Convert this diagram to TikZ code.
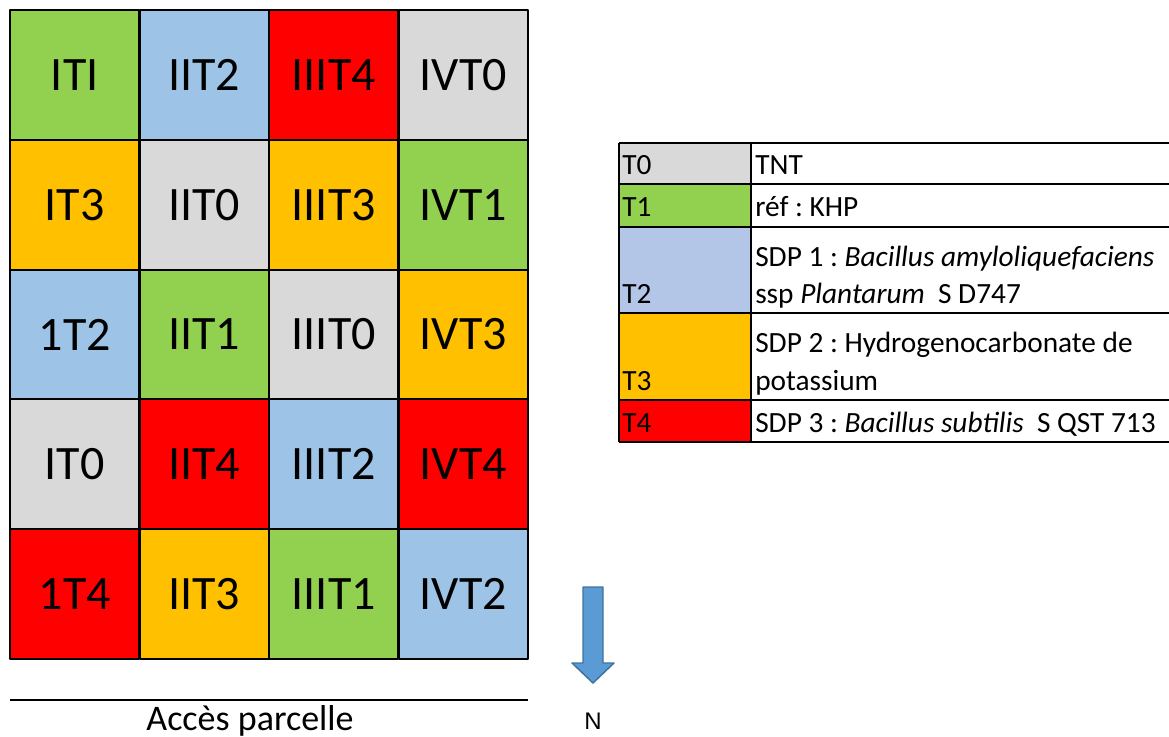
\documentclass[tikz,border=0pt]{standalone}
\usepackage{fontspec}
\setmainfont{Carlito}
\newfontfamily\arialfont{Liberation Sans}
\frenchspacing
\definecolor{vert}{HTML}{92D050}
\definecolor{bleu}{HTML}{9DC3E6}
\definecolor{bleuleg}{HTML}{B4C6E7}
\definecolor{rouge}{HTML}{FF0000}
\definecolor{gris}{HTML}{D9D9D9}
\definecolor{jaune}{HTML}{FFC000}
\definecolor{fleche}{HTML}{5B9BD5}
\definecolor{flechebord}{HTML}{41719C}
\tikzset{
  cell/.style={draw, line width=1.5pt, minimum width=97.1pt, minimum height=97.3pt, inner sep=0pt, font=\fontsize{36}{43}\selectfont},
  leg/.style={anchor=base west, inner sep=0pt, font=\fontsize{22}{26}\selectfont}
}
\begin{document}
\begin{tikzpicture}[x=0.75pt, y=-0.75pt, line join=round]
    \useasboundingbox (0,0) rectangle (1169,737);
    % parcelles
    \foreach \c/\lab/\col in {1/ITI/vert,2/IIT2/bleu,3/IIIT4/rouge,4/IVT0/gris}
        \node[cell, fill=\col] (a\c) at ({10+129.5*(\c-0.5)}, 74.9) {\lab};
    \foreach \c/\lab/\col in {1/IT3/jaune,2/IIT0/gris,3/IIIT3/jaune,4/IVT1/vert}
        \node[cell, fill=\col] (b\c) at ({10+129.5*(\c-0.5)}, 204.7) {\lab};
    \foreach \c/\lab/\col in {1/1T2/bleu,2/IIT1/vert,3/IIIT0/gris,4/IVT3/jaune}
        \node[cell, fill=\col] (c\c) at ({10+129.5*(\c-0.5)}, 334.5) {\lab};
    \foreach \c/\lab/\col in {1/IT0/gris,2/IIT4/rouge,3/IIIT2/bleu,4/IVT4/rouge}
        \node[cell, fill=\col] (d\c) at ({10+129.5*(\c-0.5)}, 464.3) {\lab};
    \foreach \c/\lab/\col in {1/1T4/rouge,2/IIT3/jaune,3/IIIT1/vert,4/IVT2/bleu}
        \node[cell, fill=\col] (e\c) at ({10+129.5*(\c-0.5)}, 594.1) {\lab};
    % acces
    \coordinate (acc1) at (10,700);
    \coordinate (acc2) at (528,700);
    \draw[line width=1.5pt] (acc1) -- (acc2);
    \node[anchor=base, inner sep=0pt, font=\fontsize{27}{32}\selectfont] (acces) at (250,730) {Accès parcelle};
    % nord
    \draw[draw=flechebord, fill=fleche, line width=1.1pt] (583,587) -- (603,587) -- (603,663) -- (614,663) -- (593,683) -- (572,663) -- (583,663) -- cycle;
    \node[inner sep=0pt, font=\arialfont\fontsize{18}{22}\selectfont] (nord) at (593,721) {N};
    % legende
    \fill[gris] (619,143) rectangle (751,184);
    \fill[vert] (619,184) rectangle (751,227);
    \fill[bleuleg] (619,227) rectangle (751,313);
    \fill[jaune] (619,313) rectangle (751,400);
    \fill[rouge] (619,400) rectangle (751,442);
    \foreach \y in {143,184,227,313,400,442}
        \draw[line width=1pt] (619,\y) -- (1169,\y);
    \draw[line width=1pt] (619,143) -- (619,442);
    \draw[line width=1pt] (751,143) -- (751,442);
    \node[leg] (t0) at (622,175) {T0};
    \node[leg] (t1) at (622,217) {T1};
    \node[leg] (t2) at (622,304) {T2};
    \node[leg] (t3) at (622,390) {T3};
    \node[leg] (t4) at (622,432) {T4};
    \node[leg] (d0) at (755,175) {TNT};
    \node[leg] (d1) at (755,217) {réf : KHP};
    \node[leg] (d2a) at (755,267) {SDP 1 : \textit{Bacillus amyloliquefaciens}};
    \node[leg] (d2b) at (755,304) {ssp \textit{Plantarum}\ \ S D747};
    \node[leg] (d3a) at (755,353) {SDP 2 : Hydrogenocarbonate de};
    \node[leg] (d3b) at (755,390) {potassium};
    \node[leg] (d4) at (755,432) {SDP 3 : \textit{Bacillus subtilis}\ \ S QST 713};
\end{tikzpicture}
\end{document}
